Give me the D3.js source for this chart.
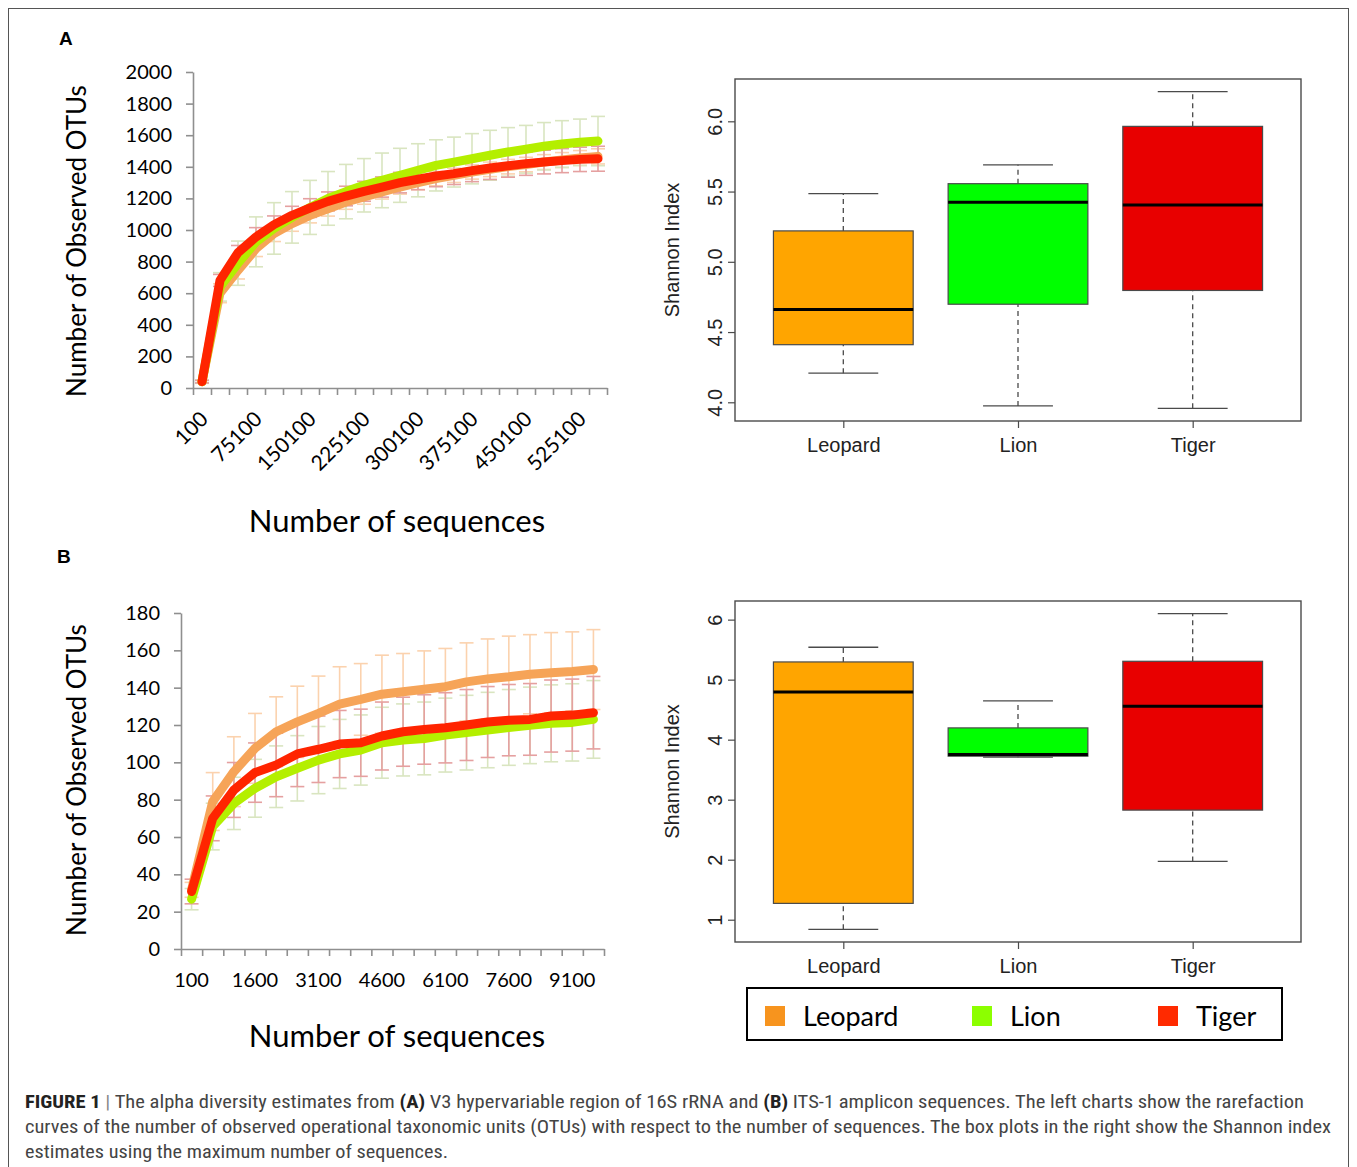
<!DOCTYPE html>
<html>
<head>
<meta charset="utf-8">
<script src="https://cdn.jsdelivr.net/npm/d3@7"></script>
<style>
  body { margin: 0; background: #fff; }
  svg { display: block; }
  .calibri { font-family: Lato, "Open Sans", sans-serif; }
  .rfont { font-family: "Liberation Sans", Arial, sans-serif; }
  .caption { font-family: "Liberation Sans Narrow", "Roboto Condensed", "DejaVu Sans Condensed", sans-serif; fill: #444; font-size: 18px; }
</style>
</head>
<body>
<div id="fig"></div>
<script>
// ---- data ----
const species = ["Leopard", "Lion", "Tiger"];

// panel A: rarefaction, 16S
const seqA = [100, 25100, 50100, 75100, 100100, 125100, 150100, 175100, 200100, 225100, 250100, 275100,
  300100, 325100, 350100, 375100, 400100, 425100, 450100, 475100, 500100, 525100, 550100];
const seqALabels = [100, 75100, 150100, 225100, 300100, 375100, 450100, 525100];
const yTicksA = [0, 200, 400, 600, 800, 1000, 1200, 1400, 1600, 1800, 2000];
const leopardA = [40, 600, 745, 882, 977, 1040, 1093, 1135, 1177, 1209, 1241, 1272, 1300, 1325, 1346, 1367, 1384, 1401, 1414, 1430, 1443, 1456, 1466];
const lionA    = [40, 640, 790, 925, 1010, 1080, 1143, 1200, 1243, 1283, 1314, 1346, 1378, 1409, 1430, 1451, 1473, 1494, 1511, 1530, 1544, 1555, 1563];
const tigerA   = [40, 681, 857, 956, 1034, 1093, 1139, 1181, 1215, 1245, 1272, 1300, 1321, 1342, 1357, 1376, 1392, 1407, 1420, 1430, 1439, 1447, 1451];
const leopardAErr = [10, 60, 55, 50, 50, 48, 48, 47, 46, 46, 45, 45, 45, 45, 45, 45, 46, 46, 46, 47, 47, 47, 48];
const lionAErr    = [10, 90, 140, 158, 163, 163, 171, 170, 172, 169, 173, 171, 168, 162, 158, 159, 158, 154, 151, 150, 148, 147, 156];
const tigerAErr   = [8, 38, 45, 59, 55, 57, 59, 60, 62, 63, 64, 65, 66, 68, 69, 70, 72, 73, 74, 75, 76, 77, 79];

// panel B: rarefaction, ITS-1
const seqB = [100, 600, 1100, 1600, 2100, 2600, 3100, 3600, 4100, 4600, 5100, 5600, 6100, 6600, 7100, 7600, 8100, 8600, 9100, 9600];
const seqBLabels = [100, 1600, 3100, 4600, 6100, 7600, 9100];
const yTicksB = [0, 20, 40, 60, 80, 100, 120, 140, 160, 180];
const leopardB = [31.7, 79, 95, 107.5, 116.4, 121.7, 126.2, 131.2, 133.7, 136.5, 137.8, 139.2, 140.5, 143.1, 144.7, 145.8, 147.2, 148, 148.7, 149.7];
const lionB    = [26.7, 65.6, 78, 86.1, 92.3, 96.8, 101.2, 104.5, 106.6, 110.5, 112, 112.8, 114.6, 115.9, 117.3, 118.7, 119.8, 120.9, 121.4, 123];
const tigerB   = [30.8, 70, 85.2, 94.5, 98.6, 104.5, 107, 109.8, 110.5, 114.1, 116.4, 117.6, 118.5, 120, 121.6, 122.6, 123, 124.8, 125.3, 126.6];
const leopardBErr = [4, 15.5, 18.7, 18.7, 18.7, 19.1, 20, 20, 19.2, 20.9, 20.5, 20.5, 20.5, 20.9, 21.4, 21.8, 21.2, 21.5, 21.2, 21.4];
const lionBErr    = [5.7, 12.5, 14, 15.5, 16.5, 17.5, 18, 18.5, 18.8, 19, 19.3, 19.5, 19.8, 20, 20.2, 20.3, 20.5, 20.6, 20.7, 20.8];
const tigerBErr   = [6.6, 12, 14.7, 15.9, 17, 17.5, 17.8, 18, 18, 18.2, 18.5, 18.6, 18.8, 19, 19, 19.1, 19.2, 19.3, 19.3, 19.4];

// box plots: [min, q1, median, q3, max]
const boxLeopardA = [4.207, 4.41, 4.66, 5.22, 5.485];
const boxLionA    = [3.974, 4.698, 5.423, 5.556, 5.69];
const boxTigerA   = [3.957, 4.796, 5.404, 5.964, 6.211];
const boxTicksA = [4.0, 4.5, 5.0, 5.5, 6.0];
const boxLeopardB = [0.839, 1.272, 4.796, 5.295, 5.54];
const boxLionB    = [3.708, 3.725, 3.752, 4.196, 4.646];
const boxTigerB   = [1.971, 2.826, 4.557, 5.306, 6.1];
const boxTicksB = [1, 2, 3, 4, 5, 6];

// ---- drawing ----
const W = 1357, H = 1167;
const svg = d3.select("#fig").append("svg").attr("width", W).attr("height", H);

// outer frame
svg.append("rect").attr("x", 8.5).attr("y", 8.5).attr("width", 1340).attr("height", 1170)
  .attr("fill", "none").attr("stroke", "#555").attr("stroke-width", 1);

// panel letters
svg.append("text").attr("class", "rfont").attr("x", 59).attr("y", 45)
  .attr("font-size", 19).attr("font-weight", "bold").text("A");
svg.append("text").attr("class", "rfont").attr("x", 57).attr("y", 563)
  .attr("font-size", 19).attr("font-weight", "bold").text("B");

const lineColors = { Leopard: "#f6a458", Lion: "#b4ef00", Tiger: "#ff2400" };
const errColors  = { Leopard: "#fbd2ae", Lion: "#d9e5c0", Tiger: "#e5a0a0" };

function rarefaction(opt) {
  const n = opt.cats.length;
  const x = d3.scaleLinear().domain([0, n]).range([opt.x0, opt.x1]);
  const y = d3.scaleLinear().domain([0, d3.max(opt.yTicks)]).range([opt.y0, opt.y1]);
  const g = svg.append("g");

  // y axis
  const ya = g.append("g").attr("transform", "translate(" + opt.x0 + ",0)")
    .call(d3.axisLeft(y).tickValues(opt.yTicks).tickFormat(d3.format("d")).tickSize(7).tickPadding(14).tickSizeOuter(0));
  // x axis, ticks on category boundaries
  const xa = g.append("g").attr("transform", "translate(0," + opt.y0 + ")")
    .call(d3.axisBottom(x).tickValues(d3.range(n + 1)).tickSize(7).tickFormat("").tickSizeOuter(0));
  [ya, xa].forEach(a => {
    a.selectAll("path, line").attr("stroke", "#8f8f8f").attr("stroke-width", 1.6);
  });
  ya.selectAll("text").attr("class", "calibri").attr("font-size", 20).attr("fill", "#000");

  // x labels
  const labs = g.append("g");
  opt.cats.forEach((c, i) => {
    if (opt.labels.indexOf(c) < 0) return;
    const cx = x(i + 0.5);
    if (opt.rotate) {
      labs.append("text").attr("class", "calibri").attr("font-size", 21)
        .attr("text-anchor", "end")
        .attr("transform", "translate(" + (cx - 3) + "," + (opt.y0 + 22) + ") rotate(-45)")
        .attr("dy", "0.7em").text(c);
    } else {
      labs.append("text").attr("class", "calibri").attr("font-size", 20)
        .attr("text-anchor", "middle").attr("x", cx).attr("y", opt.y0 + 38).text(c);
    }
  });

  // axis titles
  g.append("text").attr("class", "calibri").attr("font-size", 26)
    .attr("text-anchor", "middle")
    .attr("transform", "translate(86," + opt.ytitleY + ") rotate(-90)")
    .text("Number of Observed OTUs");
  g.append("text").attr("class", "calibri").attr("font-size", 31)
    .attr("text-anchor", "middle").attr("x", 397).attr("y", opt.titleY)
    .text("Number of sequences");

  // error bars
  opt.series.forEach(s => {
    const eg = g.append("g").attr("stroke", errColors[s.name]).attr("stroke-width", 1.6).attr("fill", "none");
    s.values.forEach((v, i) => {
      const cx = x(i + 0.5), e = s.err[i];
      eg.append("line").attr("x1", cx).attr("x2", cx).attr("y1", y(v - e)).attr("y2", y(v + e));
      eg.append("line").attr("x1", cx - 7).attr("x2", cx + 7).attr("y1", y(v - e)).attr("y2", y(v - e));
      eg.append("line").attr("x1", cx - 7).attr("x2", cx + 7).attr("y1", y(v + e)).attr("y2", y(v + e));
    });
  });

  // lines
  const line = d3.line().x((d, i) => x(i + 0.5)).y(d => y(d));
  opt.series.forEach(s => {
    g.append("path").datum(s.values)
      .attr("fill", "none").attr("stroke", lineColors[s.name])
      .attr("stroke-width", 9).attr("stroke-linecap", "round").attr("stroke-linejoin", "round")
      .attr("d", line);
  });
}

rarefaction({
  cats: seqA, labels: seqALabels, yTicks: yTicksA,
  x0: 193, x1: 607, y0: 388, y1: 72, rotate: true, titleY: 532, ytitleY: 241,
  series: [
    { name: "Leopard", values: leopardA, err: leopardAErr },
    { name: "Lion", values: lionA, err: lionAErr },
    { name: "Tiger", values: tigerA, err: tigerAErr }
  ]
});

rarefaction({
  cats: seqB, labels: seqBLabels, yTicks: yTicksB,
  x0: 181, x1: 604, y0: 949, y1: 613, rotate: false, titleY: 1047, ytitleY: 780,
  series: [
    { name: "Leopard", values: leopardB, err: leopardBErr },
    { name: "Lion", values: lionB, err: lionBErr },
    { name: "Tiger", values: tigerB, err: tigerBErr }
  ]
});

// box plots
const boxFill = { Leopard: "#ffa500", Lion: "#00ff00", Tiger: "#e80000" };

function boxplot(opt) {
  const lo = d3.min(opt.boxes, b => b[0]), hi = d3.max(opt.boxes, b => b[4]);
  const pad = (hi - lo) * 0.04;
  const y = d3.scaleLinear().domain([lo - pad, hi + pad]).range([opt.y1, opt.y0]);
  const x = d3.scaleLinear().domain([0.38, 3.62]).range([opt.x0, opt.x1]);
  const g = svg.append("g");
  const ink = "#4a4a4a";

  g.append("rect").attr("x", opt.x0).attr("y", opt.y0)
    .attr("width", opt.x1 - opt.x0).attr("height", opt.y1 - opt.y0)
    .attr("fill", "none").attr("stroke", ink).attr("stroke-width", 1.4);

  const ya = g.append("g").attr("transform", "translate(" + opt.x0 + ",0)")
    .call(d3.axisLeft(y).tickValues(opt.ticks).tickFormat(d3.format(opt.fmt)).tickSize(7).tickPadding(8));
  ya.select(".domain").remove();
  ya.selectAll("line").attr("stroke", ink).attr("stroke-width", 1.2);
  ya.selectAll(".tick text").attr("class", "rfont").attr("font-size", 20).attr("fill", "#222")
    .attr("text-anchor", "middle").attr("x", 0).attr("y", 0).attr("dy", "0.35em")
    .attr("transform", "translate(-20,0) rotate(-90)");

  const xa = g.append("g").attr("transform", "translate(0," + opt.y1 + ")")
    .call(d3.axisBottom(x).tickValues([1, 2, 3]).tickFormat((d, i) => species[i]).tickSize(7).tickPadding(10));
  xa.select(".domain").remove();
  xa.selectAll("line").attr("stroke", ink).attr("stroke-width", 1.2);
  xa.selectAll("text").attr("class", "rfont").attr("font-size", 20).attr("fill", "#222");

  g.append("text").attr("class", "rfont").attr("font-size", 20).attr("fill", "#222")
    .attr("text-anchor", "middle")
    .attr("transform", "translate(679," + ((opt.y0 + opt.y1) / 2) + ") rotate(-90)")
    .text("Shannon Index");

  opt.boxes.forEach((b, i) => {
    const cx = x(i + 1), hw = x(1.4) - x(1), cw = x(1.2) - x(1);
    const wg = g.append("g").attr("stroke", ink).attr("stroke-width", 1.3);
    wg.append("line").attr("x1", cx).attr("x2", cx).attr("y1", y(b[0])).attr("y2", y(b[1])).attr("stroke-dasharray", "5,4");
    wg.append("line").attr("x1", cx).attr("x2", cx).attr("y1", y(b[3])).attr("y2", y(b[4])).attr("stroke-dasharray", "5,4");
    wg.append("line").attr("x1", cx - cw).attr("x2", cx + cw).attr("y1", y(b[0])).attr("y2", y(b[0]));
    wg.append("line").attr("x1", cx - cw).attr("x2", cx + cw).attr("y1", y(b[4])).attr("y2", y(b[4]));
    g.append("rect").attr("x", cx - hw).attr("width", 2 * hw)
      .attr("y", y(b[3])).attr("height", y(b[1]) - y(b[3]))
      .attr("fill", boxFill[species[i]]).attr("stroke", ink).attr("stroke-width", 1.2);
    g.append("line").attr("x1", cx - hw).attr("x2", cx + hw).attr("y1", y(b[2])).attr("y2", y(b[2]))
      .attr("stroke", "#000").attr("stroke-width", 3);
  });
}

boxplot({ boxes: [boxLeopardA, boxLionA, boxTigerA], ticks: boxTicksA, fmt: ".1f",
  x0: 735, x1: 1301, y0: 79, y1: 421 });
boxplot({ boxes: [boxLeopardB, boxLionB, boxTigerB], ticks: boxTicksB, fmt: "d",
  x0: 735, x1: 1301, y0: 601, y1: 942 });

// legend
const legendColors = { Leopard: "#f7941e", Lion: "#8cff00", Tiger: "#ff2a00" };
const legendX = [765, 972, 1158];
const lg = svg.append("g");
lg.append("rect").attr("x", 747).attr("y", 988).attr("width", 535).attr("height", 52)
  .attr("fill", "#fff").attr("stroke", "#000").attr("stroke-width", 2);
species.forEach((s, i) => {
  lg.append("rect").attr("x", legendX[i]).attr("y", 1006).attr("width", 20).attr("height", 20)
    .attr("fill", legendColors[s]);
  lg.append("text").attr("class", "calibri").attr("font-size", 27)
    .attr("x", legendX[i] + 38).attr("y", 1026).text(s);
});

// caption
const cap = svg.append("g").attr("class", "caption");
const l1 = cap.append("text").attr("x", 25).attr("y", 1108).attr("textLength", 1279).attr("lengthAdjust", "spacingAndGlyphs");
l1.append("tspan").attr("font-weight", "bold").attr("fill", "#222").text("FIGURE 1");
l1.append("tspan").attr("fill", "#888").text(" | ");
l1.append("tspan").text("The alpha diversity estimates from ");
l1.append("tspan").attr("font-weight", "bold").attr("fill", "#222").text("(A)");
l1.append("tspan").text(" V3 hypervariable region of 16S rRNA and ");
l1.append("tspan").attr("font-weight", "bold").attr("fill", "#222").text("(B)");
l1.append("tspan").text(" ITS-1 amplicon sequences. The left charts show the rarefaction");
cap.append("text").attr("x", 25).attr("y", 1133).attr("textLength", 1306).attr("lengthAdjust", "spacingAndGlyphs")
  .text("curves of the number of observed operational taxonomic units (OTUs) with respect to the number of sequences. The box plots in the right show the Shannon index");
cap.append("text").attr("x", 25).attr("y", 1158).attr("textLength", 423).attr("lengthAdjust", "spacingAndGlyphs")
  .text("estimates using the maximum number of sequences.");
</script>
</body>
</html>
